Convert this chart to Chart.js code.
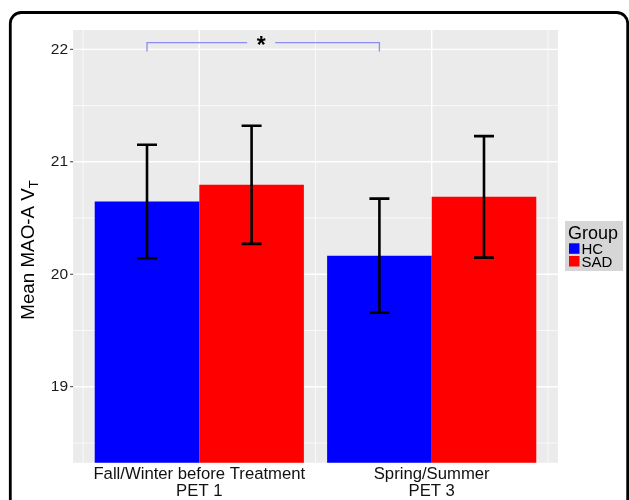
<!DOCTYPE html>
<html>
<head>
<meta charset="utf-8">
<script src="https://cdn.jsdelivr.net/npm/chart.js@4.4.1/dist/chart.umd.min.js"></script>
<style>
  html, body { margin: 0; padding: 0; background: #fff; }
  #wrap { width: 629px; height: 500px; }
</style>
</head>
<body>
<div id="wrap"><canvas id="chart" width="629" height="500"></canvas></div>
<script>
const CATEGORIES = [['Fall/Winter before Treatment', 'PET 1'], ['Spring/Summer', 'PET 3']];
const GROUPS = ['HC', 'SAD'];
const GROUP_COLORS = ['#0000FF', '#FF0000'];
const HC_MEAN = [20.647, 20.165];
const SAD_MEAN = [20.795, 20.688];
const HC_SE = [0.505, 0.507];
const SAD_SE = [0.525, 0.54];
const Y_TICKS = [19, 20, 21, 22];
const Y_MINOR = [18.5, 19.5, 20.5, 21.5];
const SIG_BARS = [0, 1];          // HC bar in PET 1 vs HC bar in PET 3
const SIG_LEVEL = [22.06, 21.98]; // bracket line, tick ends
const SIG_LABEL = '*';

const FONT = "'Liberation Sans', Arial, sans-serif";
const PANEL_PAD = 10;

const ggPanel = {
    id: 'ggPanel',
    beforeDraw(chart) {
        const { ctx, chartArea: a, scales: { x, y } } = chart;
        ctx.save();

        // outer rounded frame
        ctx.strokeStyle = '#000';
        ctx.lineWidth = 2.8;
        ctx.beginPath();
        ctx.roundRect(10.3, 12.5, 617.4, 540, 11);
        ctx.stroke();

        const left = a.left - PANEL_PAD, right = a.right + PANEL_PAD;
        ctx.fillStyle = '#EBEBEB';
        ctx.fillRect(left, a.top, right - left, a.bottom - a.top);

        ctx.strokeStyle = '#FFFFFF';
        // minor grid
        ctx.lineWidth = 0.7;
        Y_MINOR.forEach(v => {
            const py = y.getPixelForValue(v);
            ctx.beginPath(); ctx.moveTo(left, py); ctx.lineTo(right, py); ctx.stroke();
        });
        for (let i = -0.5; i <= CATEGORIES.length - 0.5; i++) {
            const px = x.getPixelForValue(i);
            ctx.beginPath(); ctx.moveTo(px, a.top); ctx.lineTo(px, a.bottom); ctx.stroke();
        }
        // major grid
        ctx.lineWidth = 1.4;
        Y_TICKS.forEach(v => {
            const py = y.getPixelForValue(v);
            ctx.beginPath(); ctx.moveTo(left, py); ctx.lineTo(right, py); ctx.stroke();
        });
        CATEGORIES.forEach((c, i) => {
            const px = x.getPixelForValue(i);
            ctx.beginPath(); ctx.moveTo(px, a.top); ctx.lineTo(px, a.bottom); ctx.stroke();
        });

        // y tick marks
        ctx.strokeStyle = '#333';
        ctx.lineWidth = 1;
        Y_TICKS.forEach(v => {
            const py = y.getPixelForValue(v);
            ctx.beginPath(); ctx.moveTo(left - 3, py); ctx.lineTo(left, py); ctx.stroke();
        });
        ctx.restore();
    },
    afterDatasetsDraw(chart) {
        const { ctx, scales: { y } } = chart;
        const means = [HC_MEAN, SAD_MEAN];
        const errs = [HC_SE, SAD_SE];
        ctx.save();

        // error bars
        ctx.strokeStyle = '#000';
        ctx.lineWidth = 2.6;
        means.forEach((m, di) => {
            chart.getDatasetMeta(di).data.forEach((bar, i) => {
                const top = y.getPixelForValue(m[i] + errs[di][i]);
                const bot = y.getPixelForValue(m[i] - errs[di][i]);
                ctx.beginPath();
                ctx.moveTo(bar.x, top); ctx.lineTo(bar.x, bot);
                ctx.moveTo(bar.x - 10, top); ctx.lineTo(bar.x + 10, top);
                ctx.moveTo(bar.x - 10, bot); ctx.lineTo(bar.x + 10, bot);
                ctx.stroke();
            });
        });

        // significance bracket
        const hc = chart.getDatasetMeta(0).data;
        const x1 = hc[SIG_BARS[0]].x, x2 = hc[SIG_BARS[1]].x;
        const yl = y.getPixelForValue(SIG_LEVEL[0]);
        const yt = y.getPixelForValue(SIG_LEVEL[1]);
        const xm = (x1 + x2) / 2 - 2;
        ctx.strokeStyle = '#8C8CF2';
        ctx.lineWidth = 1.3;
        ctx.beginPath();
        ctx.moveTo(x1, yt); ctx.lineTo(x1, yl); ctx.lineTo(xm - 14, yl);
        ctx.moveTo(xm + 14, yl); ctx.lineTo(x2, yl); ctx.lineTo(x2, yt);
        ctx.stroke();
        ctx.fillStyle = '#000';
        ctx.font = 'bold 23px ' + FONT;
        ctx.textAlign = 'center';
        ctx.textBaseline = 'alphabetic';
        ctx.fillText(SIG_LABEL, xm, yl + 0.56 * 23 - 2);
        ctx.restore();
    },
    afterDraw(chart) {
        const { ctx } = chart;
        ctx.save();

        // y axis title with subscript
        ctx.translate(34, 250);
        ctx.rotate(-Math.PI / 2);
        ctx.fillStyle = '#000';
        ctx.textBaseline = 'alphabetic';
        ctx.textAlign = 'left';
        const main = 'Mean MAO-A V';
        ctx.font = '18.8px ' + FONT;
        const w1 = ctx.measureText(main).width;
        ctx.font = '13px ' + FONT;
        const w2 = ctx.measureText('T').width;
        const start = -(w1 + w2) / 2;
        ctx.font = '18.8px ' + FONT;
        ctx.fillText(main, start, 0);
        ctx.font = '13px ' + FONT;
        ctx.fillText('T', start + w1, 3.5);
        ctx.restore();

        // legend
        ctx.save();
        ctx.fillStyle = '#D6D6D6';
        ctx.fillRect(565, 221, 58, 50);
        ctx.fillStyle = '#000';
        ctx.textAlign = 'left';
        ctx.textBaseline = 'alphabetic';
        ctx.font = '18px ' + FONT;
        ctx.fillText('Group', 568, 239);
        GROUPS.forEach((g, i) => {
            const ky = 243.3 + i * 12.7;
            ctx.fillStyle = GROUP_COLORS[i];
            ctx.fillRect(569, ky, 10.5, 10.5);
            ctx.fillStyle = '#000';
            ctx.font = '15px ' + FONT;
            ctx.fillText(g, 581.5, ky + 10.7);
        });
        ctx.restore();
    }
};

new Chart(document.getElementById('chart'), {
    type: 'bar',
    data: {
        labels: CATEGORIES,
        datasets: [
            { label: GROUPS[0], data: HC_MEAN, backgroundColor: GROUP_COLORS[0] },
            { label: GROUPS[1], data: SAD_MEAN, backgroundColor: GROUP_COLORS[1] },
        ],
    },
    options: {
        responsive: false,
        animation: false,
        devicePixelRatio: 1,
        categoryPercentage: 0.9,
        barPercentage: 1.0,
        layout: { padding: { top: 30, right: 81.1, bottom: 0, left: 0 } },
        plugins: {
            legend: { display: false },
            tooltip: { enabled: false },
        },
        scales: {
            x: {
                grid: { display: false, drawTicks: false },
                border: { display: false },
                ticks: { color: '#111', padding: 3.5, font: { family: FONT, size: 16.7, lineHeight: 1.02 } },
                afterFit: s => { s.height = 37.3; },
            },
            y: {
                min: 18.324,
                max: 22.172,
                grid: { display: false, drawTicks: false },
                border: { display: false },
                ticks: { color: '#1a1a1a', padding: 15, font: { family: FONT, size: 15.5 } },
                afterBuildTicks: s => { s.ticks = Y_TICKS.map(v => ({ value: v })); },
                afterFit: s => { s.width = 83.1; },
            },
        },
    },
    plugins: [ggPanel],
});
</script>
</body>
</html>
